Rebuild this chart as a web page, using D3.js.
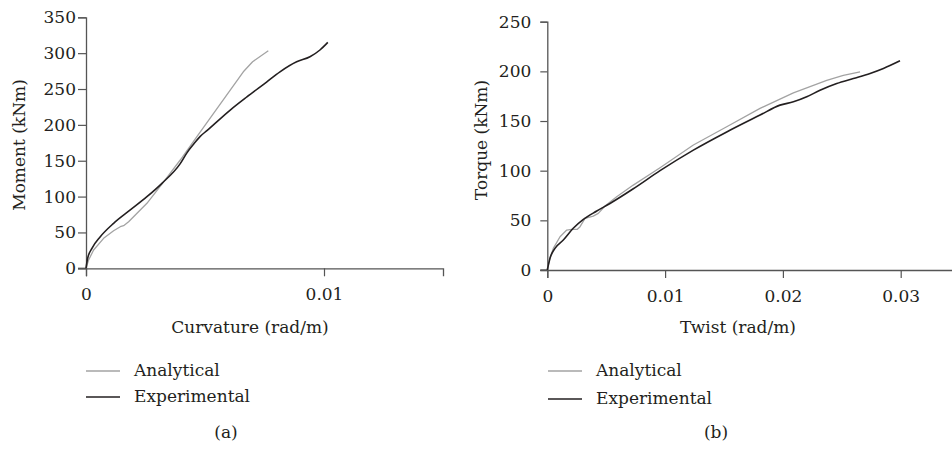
<!DOCTYPE html>
<html>
<head>
<meta charset="utf-8">
<script src="https://cdn.jsdelivr.net/npm/d3@7"></script>
<style>
  body { margin: 0; background: #fff; }
  svg text { font-family: "DejaVu Serif", serif; fill: #231f20; }
</style>
</head>
<body>
<svg id="chart" width="952" height="451"></svg>
<script>
// Panel (a): moment vs curvature
const curvAnalytical = [
  [0, 0], [0.00011, 11.6], [0.00032, 25.5], [0.00074, 41.8], [0.00116, 52.4],
  [0.00144, 58], [0.00158, 59.4], [0.00179, 65], [0.00256, 90.6], [0.00319, 117.5],
  [0.00396, 151], [0.00466, 183.5], [0.00536, 216], [0.00606, 248.6],
  [0.00661, 274], [0.0070, 288], [0.00766, 303.4]
];
const curvExperimental = [
  [0, 0], [0.00007, 14], [0.00025, 27.9], [0.0006, 44], [0.00116, 62.7],
  [0.00186, 81.3], [0.00256, 99.8], [0.00319, 118.5], [0.00396, 146],
  [0.00424, 161], [0.00452, 173], [0.0048, 184], [0.00508, 192],
  [0.00606, 220.7], [0.00676, 239], [0.0076, 260], [0.00815, 274],
  [0.00885, 288], [0.00941, 295], [0.00983, 304.4], [0.01016, 315]
];

// Panel (b): torque vs twist
const twistAnalytical = [
  [0, 0], [0.00017, 10], [0.00051, 21.8], [0.00108, 33.5], [0.00165, 40.2],
  [0.00207, 41], [0.00255, 41], [0.00278, 43.6], [0.0032, 52], [0.0039, 54.3],
  [0.00433, 57], [0.0049, 64.4], [0.00589, 73.7], [0.0073, 85.5],
  [0.00957, 103], [0.0124, 125.8], [0.01523, 144.2], [0.01806, 162.7],
  [0.02089, 178.4], [0.02372, 191], [0.02513, 196], [0.02655, 199.5]
];
const twistExperimental = [
  [0, 0], [0.00023, 11.8], [0.00065, 21.8], [0.00136, 30.2], [0.0022, 42],
  [0.00306, 51], [0.0042, 59.4], [0.00532, 67], [0.0073, 81.8], [0.00957, 100],
  [0.0124, 120.7], [0.01523, 139], [0.01806, 156], [0.01975, 166],
  [0.02089, 169.3], [0.02202, 174.4], [0.02315, 181], [0.02457, 187.8],
  [0.02598, 192.8], [0.0274, 197.9], [0.02853, 202.9], [0.02994, 210.6]
];

const seriesNames = ["Analytical", "Experimental"];
const seriesColors = ["#a3a3a3", "#231f20"];

const curvTicks = [0, 0.01];
const momentTicks = [0, 50, 100, 150, 200, 250, 300, 350];
const twistTicks = [0, 0.01, 0.02, 0.03];
const torqueTicks = [0, 50, 100, 150, 200, 250];

const fontSize = 17;
const svg = d3.select('#chart');

// Draws one panel; the layout box is given in pixels
function drawPanel(cfg) {
  const g = svg.append('g');
  const x = d3.scaleLinear().domain(cfg.xDomain).range([cfg.left, cfg.right]);
  const y = d3.scaleLinear().domain(cfg.yDomain).range([cfg.bottom, cfg.top]);

  const xAxis = g.append('g')
    .attr('transform', `translate(0,${cfg.bottom})`)
    .call(d3.axisBottom(x).tickValues(cfg.xTicks).tickSize(8).tickPadding(12)
      .tickFormat(d => d === 0 ? '0' : d3.format('.2f')(d)));
  const yAxis = g.append('g')
    .attr('transform', `translate(${cfg.left},0)`)
    .call(d3.axisLeft(y).tickValues(cfg.yTicks).tickSize(cfg.yTickSize).tickPadding(cfg.yPad));

  [xAxis, yAxis].forEach(a => {
    a.select('.domain').attr('stroke', '#555').attr('stroke-width', 1.3);
    a.selectAll('.tick line').attr('stroke', '#555').attr('stroke-width', 1.2);
    a.selectAll('.tick text').attr('font-family', '"DejaVu Serif", serif')
      .attr('font-size', fontSize).attr('fill', '#231f20');
  });
  // little extension of x axis to the left of the y axis
  g.append('line')
    .attr('x1', cfg.left - cfg.yTickSize).attr('x2', cfg.left)
    .attr('y1', cfg.bottom).attr('y2', cfg.bottom)
    .attr('stroke', '#555').attr('stroke-width', 1.3);

  const smooth = d3.line().x(d => x(d[0])).y(d => y(d[1])).curve(d3.curveMonotoneX);
  const straight = d3.line().x(d => x(d[0])).y(d => y(d[1]));
  [cfg.analytical, cfg.experimental].forEach((data, i) => {
    g.append('path').datum(data)
      .attr('fill', 'none')
      .attr('stroke', seriesColors[i])
      .attr('stroke-width', i === 0 ? 1.3 : 1.6)
      .attr('stroke-linejoin', 'round')
      .attr('d', i === 0 ? straight : smooth);
  });

  g.append('text')
    .attr('x', cfg.xTitlePos[0]).attr('y', cfg.xTitlePos[1])
    .attr('text-anchor', 'middle').attr('dominant-baseline', 'middle')
    .attr('font-size', fontSize).text(cfg.xTitle);
  g.append('text')
    .attr('transform', `translate(${cfg.yTitlePos[0]},${cfg.yTitlePos[1]}) rotate(-90)`)
    .attr('text-anchor', 'middle').attr('dominant-baseline', 'middle')
    .attr('font-size', fontSize).text(cfg.yTitle);

  // legend
  seriesNames.forEach((name, i) => {
    const ly = cfg.legendY[i];
    g.append('line')
      .attr('x1', cfg.legendX).attr('x2', cfg.legendX + 34)
      .attr('y1', ly).attr('y2', ly)
      .attr('stroke', seriesColors[i]).attr('stroke-width', i === 0 ? 1.3 : 1.6);
    g.append('text')
      .attr('x', cfg.legendX + 48).attr('y', ly)
      .attr('dominant-baseline', 'middle')
      .attr('font-size', fontSize).text(name);
  });

  g.append('text')
    .attr('x', cfg.labelX).attr('y', 433)
    .attr('text-anchor', 'middle').attr('dominant-baseline', 'middle')
    .attr('font-size', fontSize).text(cfg.label);
}

drawPanel({
  left: 86, right: 443, top: 17.3, bottom: 268.3,
  xDomain: [0, 0.015], yDomain: [0, 350],
  xTicks: curvTicks, yTicks: momentTicks, yTickSize: 8, yPad: 2,
  analytical: curvAnalytical, experimental: curvExperimental,
  xTitle: 'Curvature (rad/m)', xTitlePos: [250, 328],
  yTitle: 'Moment (kNm)', yTitlePos: [20, 145],
  legendX: 86, legendY: [371, 397],
  label: '(a)', labelX: 226
});

drawPanel({
  left: 547.3, right: 547.3 + 117.8 * 3.5, top: 21.7, bottom: 270,
  xDomain: [0, 0.035], yDomain: [0, 250],
  xTicks: twistTicks, yTicks: torqueTicks, yTickSize: 7, yPad: 9,
  analytical: twistAnalytical, experimental: twistExperimental,
  xTitle: 'Twist (rad/m)', xTitlePos: [738, 328],
  yTitle: 'Torque (kNm)', yTitlePos: [482, 140],
  legendX: 548, legendY: [371, 399],
  label: '(b)', labelX: 716
});
</script>
</body>
</html>
